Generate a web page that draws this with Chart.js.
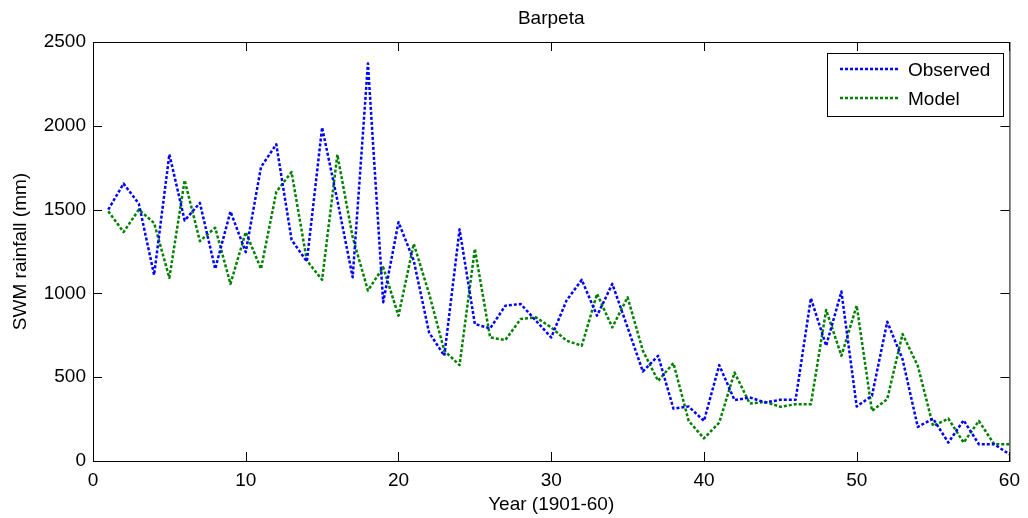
<!DOCTYPE html>
<html>
<head>
<meta charset="utf-8">
<script src="https://cdn.jsdelivr.net/npm/chart.js@4"></script>
<style>
  html, body { margin: 0; padding: 0; background: #fff; }
  #wrap { width: 1028px; height: 518px; }
</style>
</head>
<body>
<div id="wrap"><canvas id="chart" width="1028" height="518"></canvas></div>
<script>
const years = [1,2,3,4,5,6,7,8,9,10,11,12,13,14,15,16,17,18,19,20,21,22,23,24,25,26,27,28,29,30,
  31,32,33,34,35,36,37,38,39,40,41,42,43,44,45,46,47,48,49,50,51,52,53,54,55,56,57,58,59,60];
const observed = [1500,1655,1535,1110,1830,1435,1540,1146,1489,1246,
  1754,1890,1320,1190,1990,1555,1096,2372,947,1425,
  1196,767,628,1382,817,791,927,937,837,737,
  957,1081,867,1057,797,534,628,313,325,239,
  572,363,379,349,365,365,971,688,1011,325,
  389,831,608,203,253,110,243,100,100,40];
const model = [1490,1366,1500,1420,1093,1675,1312,1392,1057,1366,
  1146,1605,1724,1196,1081,1828,1336,1017,1156,867,
  1296,1000,658,572,1266,737,722,847,857,797,
  718,688,997,797,977,658,478,584,239,135,
  229,528,343,353,323,339,339,901,628,927,
  299,369,758,568,209,253,110,239,100,100];
const xTicks = [0,10,20,30,40,50,60];
const yTicks = [0,500,1000,1500,2000,2500];

const FONT = "'Liberation Sans', Arial, Helvetica, sans-serif";

// frame, inward ticks, title and legend (MATLAB look)
const matlabFrame = {
  id: "matlabFrame",
  afterDraw(chart) {
    const { ctx, chartArea: a, scales } = chart;
    ctx.save();
    ctx.strokeStyle = "#000";
    ctx.lineWidth = 1;
    ctx.strokeRect(a.left + 0.5, a.top + 0.5, a.right - a.left, a.bottom - a.top);
    const tl = 9;
    ctx.beginPath();
    xTicks.forEach(v => {
      const px = Math.round(scales.x.getPixelForValue(v)) + 0.5;
      ctx.moveTo(px, a.bottom); ctx.lineTo(px, a.bottom - tl);
      ctx.moveTo(px, a.top); ctx.lineTo(px, a.top + tl);
    });
    yTicks.forEach(v => {
      const py = Math.round(scales.y.getPixelForValue(v)) + 0.5;
      ctx.moveTo(a.left, py); ctx.lineTo(a.left + tl, py);
      ctx.moveTo(a.right, py); ctx.lineTo(a.right - tl, py);
    });
    ctx.stroke();

    ctx.fillStyle = "#000";
    ctx.font = "19px " + FONT;
    ctx.textAlign = "center";
    ctx.textBaseline = "middle";
    ctx.fillText("Barpeta", (a.left + a.right) / 2, 19);

    // legend
    const lx = 827, ly = 53, lw = 176, lh = 63;
    ctx.fillStyle = "#fff";
    ctx.fillRect(lx, ly, lw, lh);
    ctx.strokeRect(lx + 0.5, ly + 0.5, lw, lh);
    const items = [["Observed", "#0000ff", 69], ["Model", "#008000", 98]];
    items.forEach(([label, color, y]) => {
      ctx.strokeStyle = color;
      ctx.lineWidth = 2.5;
      ctx.setLineDash([3, 2]);
      ctx.beginPath();
      ctx.moveTo(840, y); ctx.lineTo(900, y);
      ctx.stroke();
      ctx.setLineDash([]);
      ctx.fillStyle = "#000";
      ctx.textAlign = "left";
      ctx.fillText(label, 908, y + 2);
    });
    ctx.restore();
  }
};

new Chart(document.getElementById("chart"), {
  type: "line",
  data: {
    datasets: [
      {
        label: "Observed",
        data: years.map((yr, i) => ({ x: yr, y: observed[i] })),
        borderColor: "#0000ff",
        borderWidth: 2.5,
        borderDash: [3, 2],
        borderJoinStyle: "round",
        pointRadius: 0,
        tension: 0,
        fill: false
      },
      {
        label: "Model",
        data: years.map((yr, i) => ({ x: yr, y: model[i] })),
        borderColor: "#008000",
        borderWidth: 2.5,
        borderDash: [3, 2],
        borderJoinStyle: "round",
        pointRadius: 0,
        tension: 0,
        fill: false
      }
    ]
  },
  options: {
    responsive: false,
    animation: false,
    layout: { padding: { top: 42, right: 15, left: 0, bottom: 0 } },
    plugins: {
      legend: { display: false },
      title: { display: false },
      tooltip: { enabled: false }
    },
    scales: {
      x: {
        type: "linear",
        min: 0, max: 60,
        afterFit: s => { s.height = 57; },
        afterBuildTicks: s => { s.ticks = xTicks.map(v => ({ value: v })); },
        grid: { display: false, drawTicks: false },
        border: { display: false },
        ticks: { color: "#000", padding: 8, maxRotation: 0, font: { family: FONT, size: 19 },
          callback: v => String(v) },
        title: {
          display: true, text: "Year (1901-60)", color: "#000",
          font: { family: FONT, size: 19 }, padding: { top: 0, bottom: 2 }
        }
      },
      y: {
        min: 0, max: 2500,
        afterFit: s => { s.width = 93; },
        afterBuildTicks: s => { s.ticks = yTicks.map(v => ({ value: v })); },
        grid: { display: false, drawTicks: false },
        border: { display: false },
        ticks: { color: "#000", padding: 7, font: { family: FONT, size: 19 },
          callback: v => String(v) },
        title: {
          display: true, text: "SWM rainfall (mm)", color: "#000",
          font: { family: FONT, size: 19 }, padding: { top: 9, bottom: 0 }
        }
      }
    }
  },
  plugins: [matlabFrame]
});
</script>
</body>
</html>
